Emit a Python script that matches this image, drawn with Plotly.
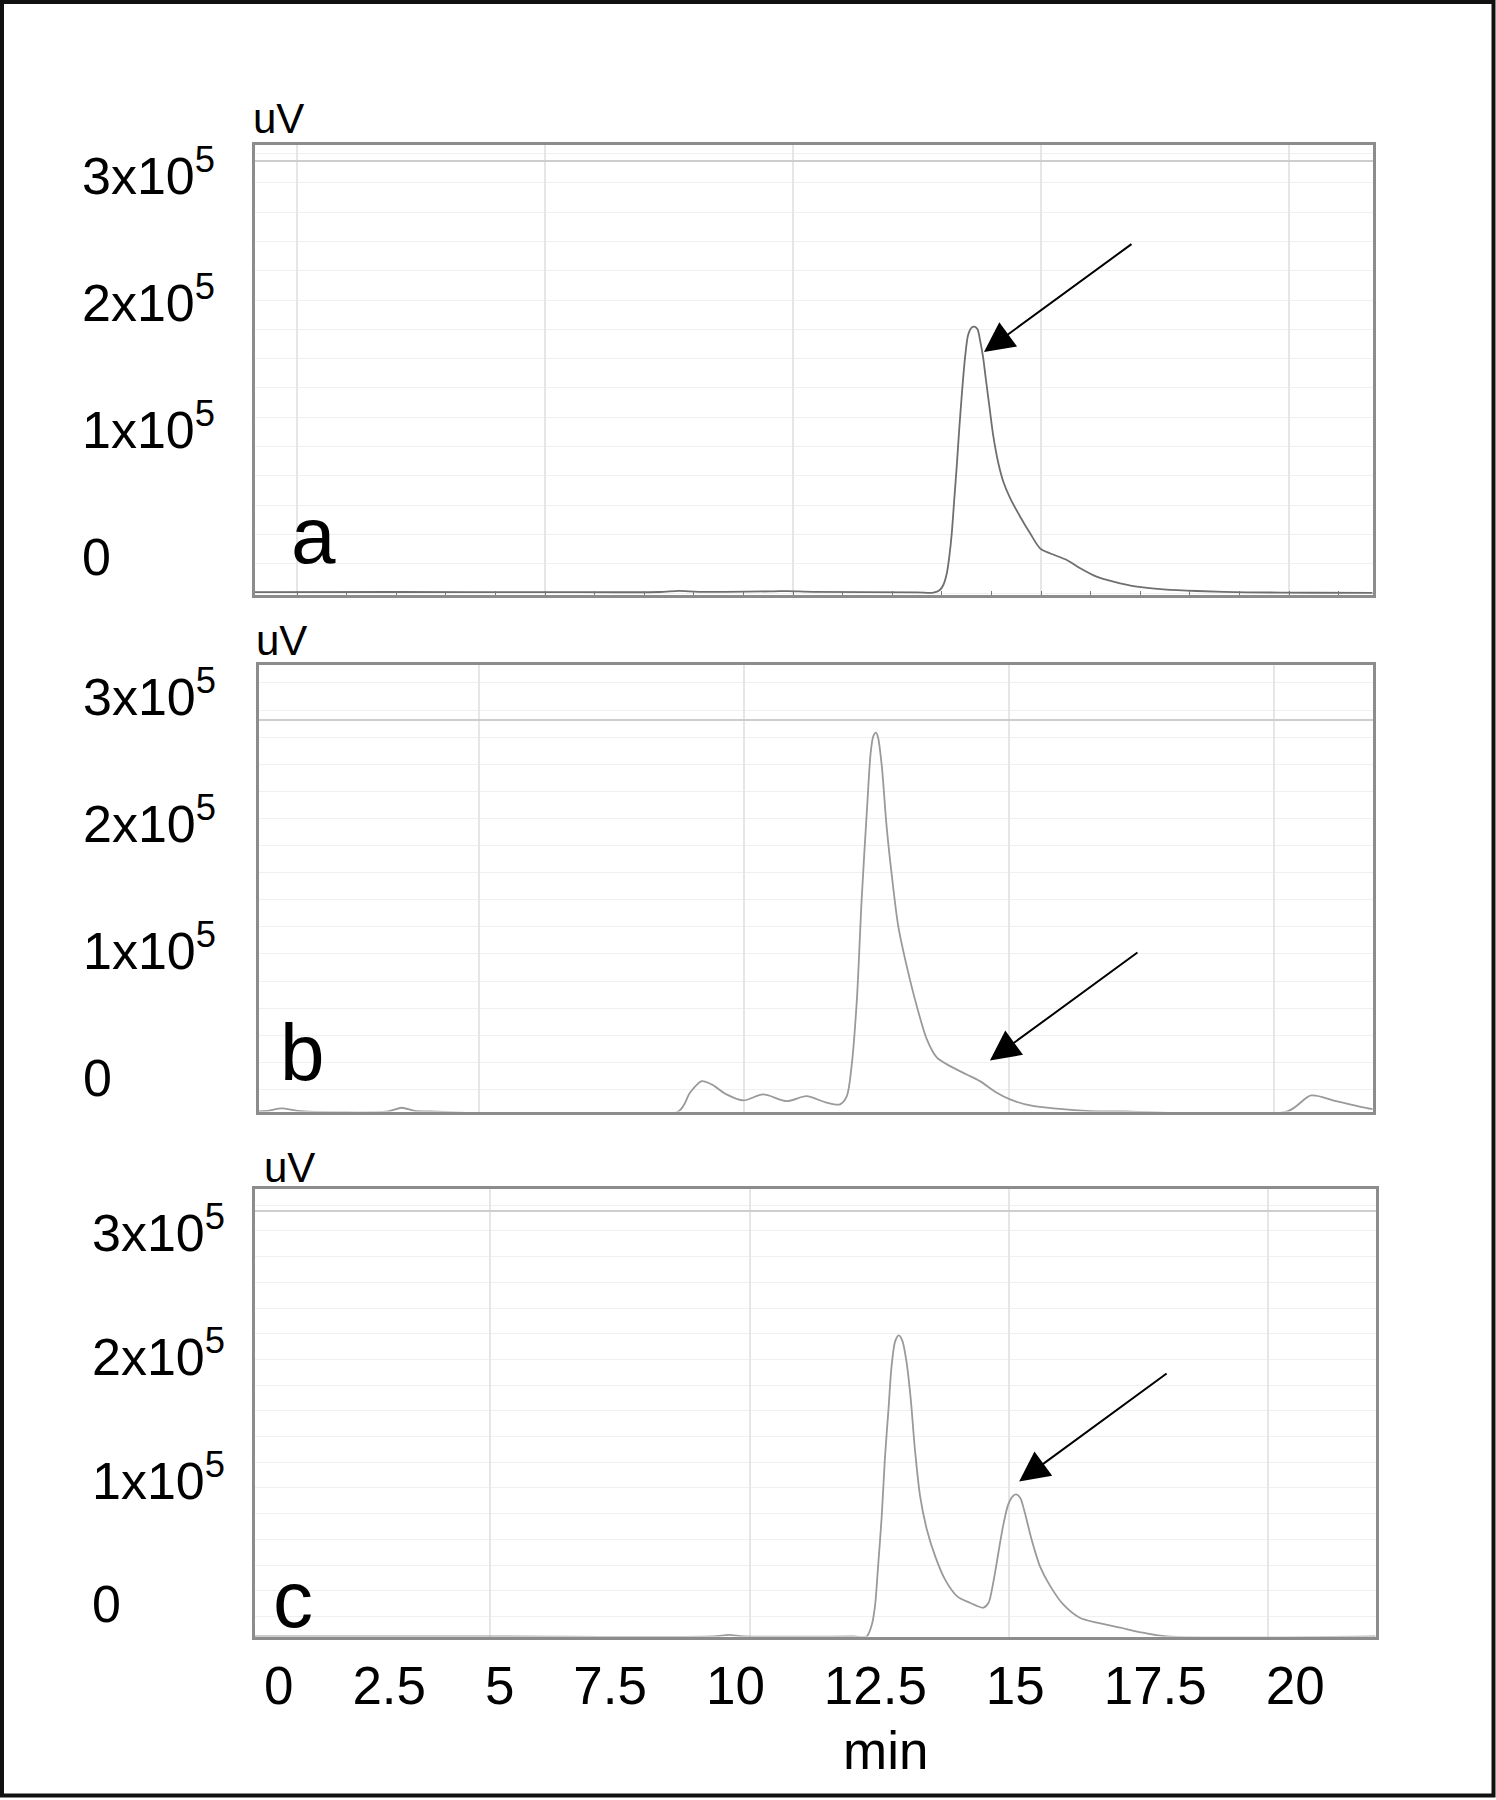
import plotly.graph_objects as go

# ---------------- data (minutes, uV) ----------------
A_TIME = [-0.89, 2.0, 5.0, 7.3, 7.7, 8.1, 9.6, 9.9, 10.4, 12.5, 12.83, 12.96, 13.03, 13.10,
          13.15, 13.20, 13.25, 13.30, 13.35, 13.40, 13.47, 13.53, 13.60, 13.66, 13.72, 13.77,
          13.83, 13.89, 13.96, 14.04, 14.14, 14.24, 14.38, 14.58, 14.78, 14.98, 15.18, 15.52,
          15.79, 16.12, 16.46, 16.93, 17.47, 18.14, 19.15, 20.5, 21.72]
A_SIGNAL = [700, 800, 700, 800, 1700, 900, 1300, 1500, 900, 500, 300, 2360, 6300, 15350,
            28350, 46690, 73230, 99450, 128350, 154570, 186060, 203150, 208900, 209690, 207640, 199210,
            186060, 167720, 146690, 123070, 102130, 87640, 74570, 60080, 47010, 35200, 31260, 25980,
            19450, 12830, 8900, 4960, 2910, 1580, 550, 200, 100]

B_TIME = [0.81, 1.00, 1.28, 1.53, 1.72, 3.28, 3.54, 3.79, 4.08, 8.76, 8.98, 9.20, 9.39, 9.67,
          9.99, 10.36, 10.81, 11.18, 11.56, 11.81, 11.94, 12.03, 12.13, 12.22, 12.32, 12.39,
          12.44, 12.49, 12.53, 12.60, 12.69, 12.79, 12.91, 13.07, 13.26, 13.45, 13.64, 13.89,
          14.20, 14.45, 14.77, 15.02, 15.40, 15.90, 16.53, 17.16, 20.25, 20.70, 21.17, 21.81, 21.89]
B_SIGNAL = [0, 400, 2360, 790, 0, 0, 2910, 390, 0, 0, 14720, 23860, 21260, 13390,
            8660, 13390, 8110, 12050, 6850, 5510, 12050, 35670, 88190, 166930, 237800, 282440,
            295510, 298190, 294250, 271890, 224650, 185280, 145910, 114410, 82910, 56690, 42280, 35670,
            29130, 23860, 14720, 9450, 4720, 2130, 240, 0, 0, 12600, 8110, 2130, 1800]

C_TIME = [0.42, 5.0, 9.3, 9.6, 9.9, 12.0, 12.26, 12.36, 12.42, 12.48, 12.55, 12.61, 12.68,
          12.74, 12.81, 12.88, 12.95, 13.03, 13.11, 13.19, 13.29, 13.42, 13.58, 13.77, 14.00,
          14.25, 14.51, 14.61, 14.70, 14.80, 14.89, 14.99, 15.08, 15.14, 15.22, 15.31, 15.44,
          15.60, 15.80, 16.05, 16.37, 16.70, 17.15, 17.59, 18.05, 22.1]
C_SIGNAL = [0, 0, 0, 1200, 0, 0, 0, 9700, 24500, 56830, 97250, 143090, 183510,
            218510, 238720, 243330, 238720, 221260, 191590, 151170, 113420, 86500, 64920, 46080, 32580,
            27240, 23200, 27240, 43410, 67660, 89170, 106710, 113420, 114790, 112130, 100000, 78420,
            56830, 40660, 25870, 15120, 11080, 7030, 2990, 0, 0]

PANEL_LETTERS = ["a", "b", "c"]
Y_TICK_VALUES = [0, 100000, 200000, 300000]
Y_TICK_LABELS = ["0", "1x10<sup>5</sup>", "2x10<sup>5</sup>", "3x10<sup>5</sup>"]
X_TICK_LABELS = ["0", "2.5", "5", "7.5", "10", "12.5", "15", "17.5", "20"]
X_TITLE = "min"
Y_UNIT = "uV"
ARROW_TARGETS = [(13.85, 189760), (14.64, 40160), (15.20, 125300)]

# ---------------- styling / layout ----------------
W, H = 1496, 1800
FONT = "Liberation Sans, Arial, Helvetica, sans-serif"
FRAME = "#8c8c8c"


def px_x(p):
    return p / W


def px_y(p):
    return 1 - p / H


panels = [
    dict(x=(254.5, 1372.5), y=(145, 595), xr=[-0.857, 21.683], yr=[-1575, 352760],
         top=340157, g0=0, gd=23071, line="#6f6f6f", ticks=True,
         lab_x=80, lab_shift=36, uv=(251, 118), let=(289, 535)),
    dict(x=(258.5, 1372.5), y=(664.5, 1111.5), xr=[0.840, 21.858], yr=[-60, 351907],
         top=307873, g0=17323, gd=21339, line="#9a9a9a", ticks=False,
         lab_x=81, lab_shift=33, uv=(254, 640), let=(278, 1052)),
    dict(x=(254.5, 1375.5), y=(1188.5, 1636.5), xr=[0.453, 22.073], yr=[-60, 362103],
         top=343570, g0=16168, gd=20776, line="#9a9a9a", ticks=False,
         lab_x=90, lab_shift=32, uv=(262, 1167), let=(271, 1599)),
]
series = [(A_TIME, A_SIGNAL), (B_TIME, B_SIGNAL), (C_TIME, C_SIGNAL)]

fig = go.Figure()
annotations = []
layout = dict(width=W, height=H, margin=dict(l=0, r=0, t=0, b=0),
              paper_bgcolor="white", plot_bgcolor="white", showlegend=False,
              font=dict(family=FONT, color="black", size=20))

for i, (p, (tx, sy)) in enumerate(zip(panels, series)):
    n = "" if i == 0 else str(i + 1)
    xa, ya = "x" + n, "y" + n
    fig.add_trace(go.Scatter(x=tx, y=sy, mode="lines", xaxis=xa, yaxis=ya,
                             line=dict(color=p["line"], width=1.8, shape="spline", smoothing=0.8),
                             hoverinfo="skip"))
    xaxis = dict(domain=[px_x(p["x"][0]), px_x(p["x"][1])], range=p["xr"], anchor=ya,
                 showgrid=True, gridcolor="#e6e6e6", gridwidth=1.5, tick0=0, dtick=5,
                 showticklabels=False, zeroline=False, showline=True, mirror=True,
                 linecolor=FRAME, linewidth=3)
    if p["ticks"]:
        xaxis.update(ticks="inside", ticklen=4, tickcolor="#777", tickwidth=1,
                     minor=dict(dtick=1, tick0=0, ticks="inside", ticklen=4,
                                tickcolor="#777", tickwidth=1, showgrid=False))
    else:
        xaxis.update(ticks="")
    yaxis = dict(domain=[px_y(p["y"][1]), px_y(p["y"][0])], range=p["yr"], anchor=xa,
                 tickmode="array", tickvals=[p["top"]], showticklabels=False, ticks="",
                 showgrid=True, gridcolor="#cdcdcd", gridwidth=2,
                 minor=dict(tick0=p["g0"], dtick=p["gd"], showgrid=True,
                            gridcolor="#f0f0f0", gridwidth=1, ticks=""),
                 zeroline=False, showline=True, mirror=True, linecolor=FRAME, linewidth=3)
    layout["xaxis" + n] = xaxis
    layout["yaxis" + n] = yaxis

    # y tick labels (left aligned, as in the original figure)
    for v, t in zip(Y_TICK_VALUES, Y_TICK_LABELS):
        annotations.append(dict(text=t, x=px_x(p["lab_x"]), xref="paper", xanchor="left",
                                y=v, yref=ya, yanchor="middle",
                                yshift=p["lab_shift"] + (4 if "sup" in t else 0),
                                showarrow=False, font=dict(size=52, family=FONT, color="black")))
    # unit label
    annotations.append(dict(text=Y_UNIT, x=px_x(p["uv"][0]), y=px_y(p["uv"][1]),
                            xref="paper", yref="paper", xanchor="left", yanchor="middle",
                            showarrow=False, font=dict(size=42, family=FONT, color="black")))
    # panel letter
    annotations.append(dict(text=PANEL_LETTERS[i], x=px_x(p["let"][0]), y=px_y(p["let"][1]),
                            xref="paper", yref="paper", xanchor="left", yanchor="middle",
                            showarrow=False, font=dict(size=80, family=FONT, color="black")))
    # arrow
    ax_t, ax_v = ARROW_TARGETS[i]
    annotations.append(dict(text="", x=ax_t, y=ax_v, xref=xa, yref=ya, showarrow=True,
                            ax=149, ay=-109, axref="pixel", ayref="pixel",
                            arrowhead=2, arrowsize=3, arrowwidth=2, arrowcolor="black",
                            standoff=0, font=dict(size=20)))

# bottom time labels, typed as one spaced line like the original
NBSP = "\u00a0"
annotations.append(dict(text=(NBSP * 4).join(X_TICK_LABELS), x=px_x(794), y=px_y(1685),
                        xref="paper", yref="paper", xanchor="center", yanchor="middle",
                        showarrow=False, font=dict(size=53, family=FONT, color="black")))
annotations.append(dict(text=X_TITLE, x=px_x(885), y=px_y(1750),
                        xref="paper", yref="paper", xanchor="center", yanchor="middle",
                        showarrow=False, font=dict(size=53, family=FONT, color="black")))

layout["annotations"] = annotations
layout["shapes"] = [dict(type="rect", xref="paper", yref="paper",
                         x0=px_x(2), x1=px_x(1493.5), y0=px_y(1795.5), y1=px_y(2),
                         line=dict(color="#111", width=4), fillcolor="rgba(0,0,0,0)")]
fig.update_layout(**layout)

fig.write_html("out.html", config={"displayModeBar": False},
               post_script="document.body.style.margin='0';")
